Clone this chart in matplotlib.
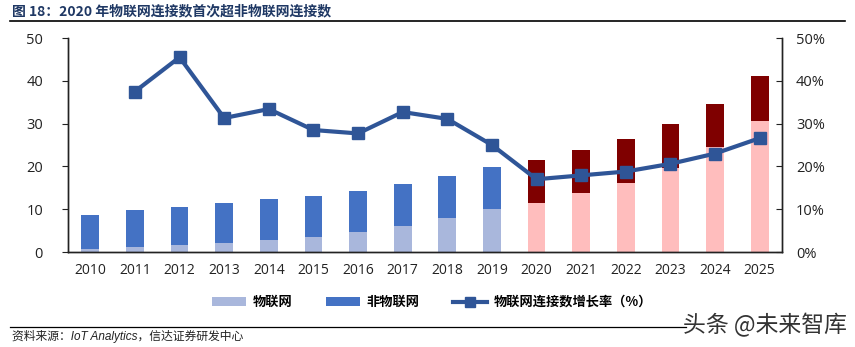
import matplotlib
matplotlib.use("Agg")
import matplotlib.pyplot as plt
from matplotlib.patches import Patch
from matplotlib.lines import Line2D

plt.rcParams['font.family'] = ['Open Sans', 'Noto Sans CJK SC', 'DejaVu Sans']

years = ['2010', '2011', '2012', '2013', '2014', '2015', '2016', '2017',
         '2018', '2019', '2020', '2021', '2022', '2023', '2024', '2025']
iot = [0.8, 1.1, 1.6, 2.1, 2.8, 3.5, 4.6, 6.0, 8.0, 10.0,
       11.5, 13.8, 16.2, 19.7, 24.5, 30.7]
total = [8.75, 9.7, 10.6, 11.5, 12.4, 13.2, 14.3, 15.9, 17.8, 19.9,
         21.5, 23.9, 26.5, 29.9, 34.6, 41.2]
growth = [None, 37.5, 45.5, 31.3, 33.4, 28.5, 27.7, 32.7, 31.1, 25.0,
          17.0, 17.9, 18.8, 20.6, 23.0, 26.6]
forecast_start = '2020'

non_iot = [t - i for t, i in zip(total, iot)]

c_iot = '#A9B7DC'
c_non = '#4472C4'
c_iot_f = '#FFBDBD'
c_non_f = '#7F0000'
c_line = '#2F5597'

fig = plt.figure(figsize=(8.55, 3.47), dpi=100)
ax = fig.add_axes([68 / 855, 1 - 252 / 347, (782 - 68) / 855, (252 - 38) / 347])
ax2 = ax.twinx()

x = list(range(len(years)))
fi = years.index(forecast_start)
col_iot = [c_iot if i < fi else c_iot_f for i in x]
col_non = [c_non if i < fi else c_non_f for i in x]
ax.bar(x, iot, width=0.4, color=col_iot, zorder=2)
ax.bar(x, non_iot, width=0.4, bottom=iot, color=col_non, zorder=2)

gx = [i for i in x if growth[i] is not None]
gy = [growth[i] for i in gx]
ax2.plot(gx, gy, color=c_line, lw=3, marker='s', markersize=8, zorder=3)

ax.set_xlim(-0.5, len(years) - 0.5)
ax.set_ylim(0, 50)
ax.set_yticks([0, 10, 20, 30, 40, 50])
ax2.set_ylim(0, 50)
ax2.set_yticks([0, 10, 20, 30, 40, 50])
ax2.set_yticklabels([f'{v}%' for v in [0, 10, 20, 30, 40, 50]])
ax.set_xticks(x)
ax.set_xticklabels(years)

for a in (ax, ax2):
    a.spines['top'].set_visible(False)
    for s in ('left', 'right', 'bottom'):
        a.spines[s].set_color('#222222')
        a.spines[s].set_linewidth(1.0)
ax.tick_params(axis='x', length=0, labelsize=10, pad=8, colors='#222222')
ax.tick_params(axis='y', direction='out', length=4, labelsize=10.5, pad=14, colors='#222222')
ax2.tick_params(axis='y', direction='in', length=4, labelsize=10.5, pad=10, colors='#222222')

# Title and rules
fig.text(12 / 855, 1 - 11 / 347, '图 18：2020 年物联网连接数首次超非物联网连接数',
         fontsize=10, fontweight='bold', color='#1F3864', va='center', ha='left',
         family=['Noto Sans CJK SC', 'DejaVu Sans'])
fig.add_artist(Line2D([10 / 855, 845 / 855], [1 - 21 / 347, 1 - 21 / 347],
                      color='black', lw=1.2))
fig.add_artist(Line2D([10 / 855, 686 / 855], [1 - 327 / 347, 1 - 327 / 347],
                      color='black', lw=0.9))

# Legend
handles = [Patch(facecolor=c_iot), Patch(facecolor=c_non),
           Line2D([0], [0], color=c_line, lw=3, marker='s', markersize=7)]
labels = ['物联网', '非物联网', '物联网连接数增长率（%）']
fig.legend(handles, labels, loc='center', bbox_to_anchor=(432 / 855, 1 - 302 / 347),
           ncol=3, frameon=False, handlelength=2.6, handleheight=0.6,
           columnspacing=2.5, handletextpad=0.5,
           prop={'family': ['Noto Sans CJK SC', 'DejaVu Sans'], 'weight': 'bold', 'size': 9.5})

# Source
fig.text(12 / 855, 1 - 336 / 347, '资料来源：IoT Analytics，信达证券研发中心',
         fontsize=8.5, style='italic', color='#222222', va='center', ha='left',
         family=['Liberation Sans', 'Noto Sans CJK SC'])

# Watermark
fig.text(847 / 855, 1 - 325 / 347, '头条 @未来智库', fontsize=16.5, color='#333333',
         va='center', ha='right', family=['Noto Sans CJK SC', 'DejaVu Sans'])

fig.savefig('out.png', dpi=100)
